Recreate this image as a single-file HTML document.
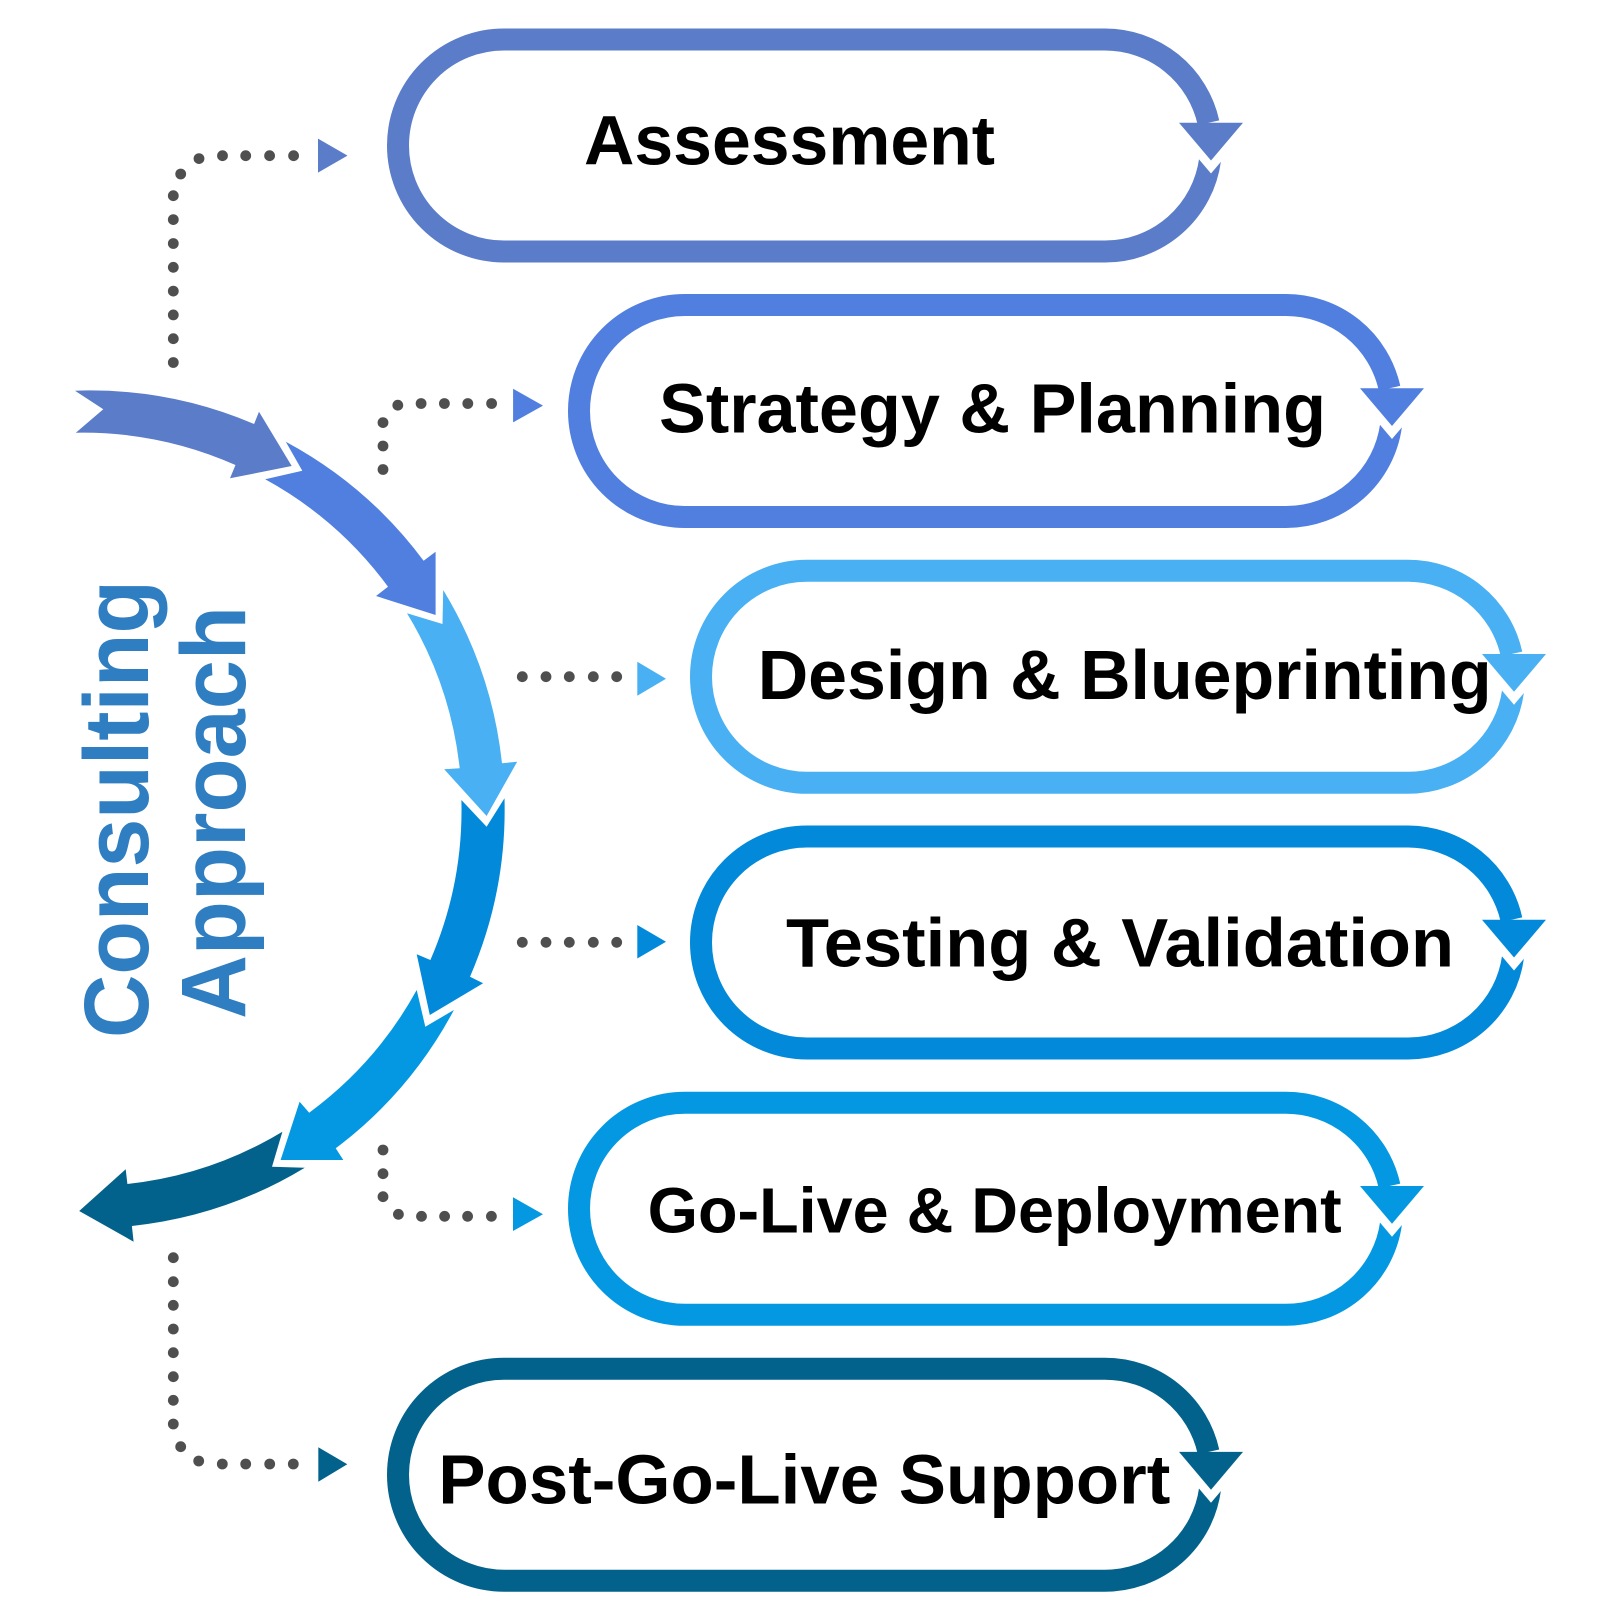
<!DOCTYPE html>
<html>
<head>
<meta charset="utf-8">
<style>
  html, body { margin: 0; padding: 0; background: #ffffff; }
  svg { display: block; }
  .lbl { font-family: "Liberation Sans", Arial, sans-serif; font-weight: 700; fill: #000000; }
  .side { font-family: "Liberation Sans", Arial, sans-serif; font-weight: 700; fill: #2f7ec1; }
</style>
</head>
<body>
<svg width="1620" height="1620" viewBox="0 0 1620 1620" xmlns="http://www.w3.org/2000/svg">
  <rect width="1620" height="1620" fill="#ffffff"/>

  <!-- ===== Pills ===== -->
  <g fill="none" stroke-width="22" stroke-linecap="butt">
    <path stroke="#5a7cc9" d="M1210.1,159.5 A106,106 0 0 1 1105,251.5 L504,251.5 A106,106 0 0 1 504,39.5 L1105,39.5 A106,106 0 0 1 1208.5,122.7"/>
    <path stroke="#507fe0" d="M1391.1,425 A106,106 0 0 1 1286,517 L685,517 A106,106 0 0 1 685,305 L1286,305 A106,106 0 0 1 1389.5,388.2"/>
    <path stroke="#48b0f3" d="M1513.1,690.8 A106,106 0 0 1 1408,782.8 L807,782.8 A106,106 0 0 1 807,570.8 L1408,570.8 A106,106 0 0 1 1511.5,654"/>
    <path stroke="#0289d9" d="M1513.1,956.5 A106,106 0 0 1 1408,1048.5 L807,1048.5 A106,106 0 0 1 807,836.5 L1408,836.5 A106,106 0 0 1 1511.5,919.7"/>
    <path stroke="#0398e1" d="M1391.1,1222.8 A106,106 0 0 1 1286,1314.8 L685,1314.8 A106,106 0 0 1 685,1102.8 L1286,1102.8 A106,106 0 0 1 1389.5,1186"/>
    <path stroke="#03628b" d="M1210.1,1488.7 A106,106 0 0 1 1105,1580.7 L504,1580.7 A106,106 0 0 1 504,1368.7 L1105,1368.7 A106,106 0 0 1 1208.5,1451.9"/>
  </g>

  <!-- white notch cut-outs -->
  <g fill="#ffffff">
    <polygon points="1179,135.7 1243,135.7 1211,173.5"/>
    <polygon points="1360,401.2 1424,401.2 1392,439"/>
    <polygon points="1482,667 1546,667 1514,704.8"/>
    <polygon points="1482,932.7 1546,932.7 1514,970.5"/>
    <polygon points="1360,1199 1424,1199 1392,1236.8"/>
    <polygon points="1179,1464.9 1243,1464.9 1211,1502.7"/>
  </g>

  <!-- pill arrowheads -->
  <polygon fill="#5a7cc9" points="1179,122.7 1243,122.7 1211,160.5"/>
  <polygon fill="#507fe0" points="1360,388.2 1424,388.2 1392,426"/>
  <polygon fill="#48b0f3" points="1482,654 1546,654 1514,691.8"/>
  <polygon fill="#0289d9" points="1482,919.7 1546,919.7 1514,957.5"/>
  <polygon fill="#0398e1" points="1360,1186 1424,1186 1392,1223.8"/>
  <polygon fill="#03628b" points="1179,1451.9 1243,1451.9 1211,1489.7"/>

  <!-- pill labels -->
  <text class="lbl" x="584" y="164.5" font-size="70" textLength="411" lengthAdjust="spacingAndGlyphs">Assessment</text>
  <text class="lbl" x="659" y="432.3" font-size="70" textLength="667" lengthAdjust="spacingAndGlyphs">Strategy &amp; Planning</text>
  <text class="lbl" x="757.7" y="699" font-size="70" textLength="734" lengthAdjust="spacingAndGlyphs">Design &amp; Blueprinting</text>
  <text class="lbl" x="786" y="966.7" font-size="69" textLength="668" lengthAdjust="spacingAndGlyphs">Testing &amp; Validation</text>
  <text class="lbl" x="647.7" y="1232.7" font-size="64" textLength="694" lengthAdjust="spacingAndGlyphs">Go-Live &amp; Deployment</text>
  <text class="lbl" x="438.3" y="1503.5" font-size="70" textLength="732" lengthAdjust="spacingAndGlyphs">Post-Go-Live Support</text>

  <!-- ===== Circular arrows ===== -->
  <path fill="#5a7cc9" d="M75,390.7 A420,420 0 0 1 254.1,424 L259,411.7 L291.7,466 L230,478.3 L235.5,465 A378,378 0 0 0 75.8,432.7 L103.3,409.2 Z"/>
  <path fill="#507fe0" d="M285.8,441.7 A420,420 0 0 1 423.6,560.7 L435.6,551.7 L435.6,615 L376,596 L388,586.7 A378,378 0 0 0 265.2,479.3 L302.3,470.7 Z"/>
  <path fill="#48b0f3" d="M443.2,590 A420,420 0 0 1 502,763.3 L517.2,761.7 L486.6,816 L444.2,769.3 L459.7,768.3 A378,378 0 0 0 407,613.3 L442.5,624 Z"/>
  <path fill="#0289d9" d="M504.5,798.3 A420,420 0 0 1 470,976.7 L483.1,983.3 L429.8,1015 L416.7,954.3 L430.4,960 A378,378 0 0 0 461.4,800 L486.6,826.7 Z"/>
  <path fill="#0398e1" d="M453.9,1010 A420,420 0 0 1 335.7,1148.3 L343.3,1160 L280.6,1160 L299.6,1101.7 L309.2,1112.7 A378,378 0 0 0 416.7,990 L425.3,1026.7 Z"/>
  <path fill="#03628b" d="M282.4,1131.7 A378,378 0 0 1 127.4,1184 L125.7,1169.3 L79.2,1211 L133.6,1241.7 L131.9,1226 A420,420 0 0 0 304.8,1167.7 L272,1166.7 Z"/>

  <!-- vertical title -->
  <text class="side" transform="translate(148,1038) rotate(-90)" font-size="92" textLength="458" lengthAdjust="spacingAndGlyphs">Consulting</text>
  <text class="side" transform="translate(245,1019) rotate(-90)" font-size="92" textLength="413" lengthAdjust="spacingAndGlyphs">Approach</text>

  <!-- ===== Dotted connectors ===== -->
  <g fill="#4f4f4f">
    <!-- 1 -->
    <circle cx="173.3" cy="195.7" r="5.4"/><circle cx="173.3" cy="219.6" r="5.4"/>
    <circle cx="173.3" cy="243.5" r="5.4"/><circle cx="173.3" cy="267.3" r="5.4"/>
    <circle cx="173.3" cy="291.1" r="5.4"/><circle cx="173.3" cy="314.9" r="5.4"/>
    <circle cx="173.3" cy="338.7" r="5.4"/><circle cx="173.3" cy="362.5" r="5.4"/>
    <circle cx="180.7" cy="174" r="5.4"/>
    <circle cx="199" cy="158.6" r="5.4"/><circle cx="222.5" cy="155.7" r="5.4"/>
    <circle cx="245.7" cy="155.7" r="5.4"/><circle cx="269.6" cy="155.7" r="5.4"/>
    <circle cx="293.6" cy="155.7" r="5.4"/>
    <!-- 2 -->
    <circle cx="383" cy="422.6" r="5.4"/><circle cx="383" cy="446" r="5.4"/>
    <circle cx="383" cy="469.5" r="5.4"/>
    <circle cx="397.8" cy="405.2" r="5.4"/>
    <circle cx="421.1" cy="403.5" r="5.4"/><circle cx="444.4" cy="403.5" r="5.4"/>
    <circle cx="467.8" cy="403.5" r="5.4"/><circle cx="491.6" cy="403.5" r="5.4"/>
    <!-- 3 -->
    <circle cx="522.3" cy="676.7" r="5.4"/><circle cx="546" cy="676.7" r="5.4"/>
    <circle cx="569.3" cy="676.7" r="5.4"/><circle cx="593.3" cy="676.7" r="5.4"/>
    <circle cx="616.7" cy="676.7" r="5.4"/>
    <!-- 4 -->
    <circle cx="522.3" cy="942.3" r="5.4"/><circle cx="546" cy="942.3" r="5.4"/>
    <circle cx="569.3" cy="942.3" r="5.4"/><circle cx="593.3" cy="942.3" r="5.4"/>
    <circle cx="616.7" cy="942.3" r="5.4"/>
    <!-- 5 -->
    <circle cx="383" cy="1150" r="5.4"/><circle cx="383" cy="1173.7" r="5.4"/>
    <circle cx="383" cy="1196.7" r="5.4"/>
    <circle cx="398.4" cy="1214.3" r="5.4"/>
    <circle cx="421.5" cy="1216.3" r="5.4"/><circle cx="444.6" cy="1216.3" r="5.4"/>
    <circle cx="467.6" cy="1216.3" r="5.4"/><circle cx="491.4" cy="1216.3" r="5.4"/>
    <!-- 6 -->
    <circle cx="173.3" cy="1257.7" r="5.4"/><circle cx="173.3" cy="1281.7" r="5.4"/>
    <circle cx="173.3" cy="1305.3" r="5.4"/><circle cx="173.3" cy="1329" r="5.4"/>
    <circle cx="173.3" cy="1352.7" r="5.4"/><circle cx="173.3" cy="1376.7" r="5.4"/>
    <circle cx="173.3" cy="1400.3" r="5.4"/><circle cx="173.3" cy="1424" r="5.4"/>
    <circle cx="180.7" cy="1446.7" r="5.4"/>
    <circle cx="198.7" cy="1461" r="5.4"/><circle cx="222.3" cy="1464" r="5.4"/>
    <circle cx="245.7" cy="1464" r="5.4"/><circle cx="269.7" cy="1464" r="5.4"/>
    <circle cx="293.3" cy="1464" r="5.4"/>
  </g>

  <!-- connector triangles -->
  <polygon fill="#5a7cc9" points="318,138.6 318,172.6 347.5,155.6"/>
  <polygon fill="#507fe0" points="513.1,388.8 513.1,422.4 543,405.6"/>
  <polygon fill="#48b0f3" points="637.3,661.7 637.3,695.7 666,678.7"/>
  <polygon fill="#0289d9" points="637.3,925 637.3,958.5 666,941.7"/>
  <polygon fill="#0398e1" points="513,1197.3 513,1231 543,1214.2"/>
  <polygon fill="#03628b" points="318.3,1447.3 318.3,1481.7 347.3,1464.3"/>
</svg>
</body>
</html>
